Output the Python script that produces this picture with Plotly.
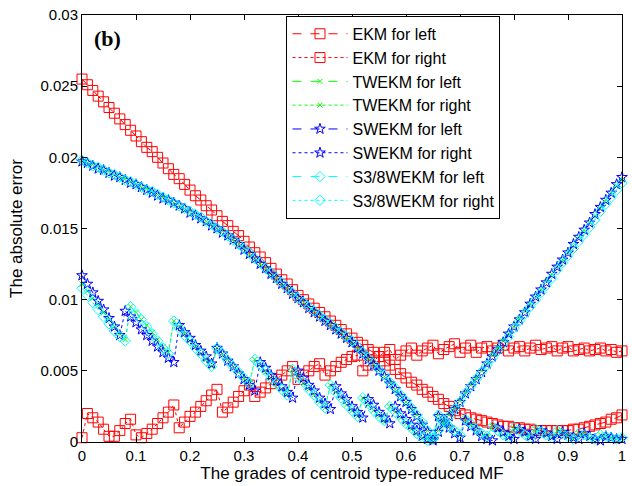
import plotly.graph_objects as go

grades = [round(i * 0.01, 2) for i in range(101)]

ekm_left = [0.0255,0.0251,0.0247,0.0243,0.0239,0.0235,0.0231,0.0227,0.0223,0.0219,
            0.0215,0.0211,0.0207,0.0204,0.0200,0.0196,0.0192,0.0188,0.0185,0.0181,
            0.0177,0.0173,0.0170,0.0166,0.0163,0.0159,0.0155,0.0152,0.0148,0.0145,
            0.0141,0.0137,0.0133,0.0130,0.0126,0.0122,0.0118,0.0114,0.0111,0.0107,
            0.0103,0.0100,0.0097,0.0094,0.0091,0.0088,0.0085,0.0082,0.0079,0.0076,
            0.0073,0.0070,0.0068,0.0065,0.0063,0.0060,0.0057,0.0054,0.0051,0.0048,
            0.0045,0.0042,0.0040,0.0037,0.0035,0.0032,0.0030,0.0027,0.0025,0.0022,
            0.0020,0.0019,0.0017,0.0016,0.0015,0.0014,0.0013,0.0012,0.0011,0.0011,
            0.0010,0.0010,0.0009,0.0009,0.0008,0.0008,0.0008,0.0008,0.0008,0.0008,
            0.0008,0.0009,0.0009,0.0010,0.0011,0.0012,0.0013,0.0014,0.0016,0.0017,
            0.0019]

ekm_right = [0.0003,0.0020,0.0017,0.0014,0.0009,0.0004,0.0004,0.0008,0.0013,0.0016,
             0.0005,0.0003,0.0006,0.0009,0.0013,0.0017,0.0021,0.0026,0.0010,0.0014,
             0.0018,0.0021,0.0025,0.0029,0.0033,0.0037,0.0021,0.0024,0.0028,0.0032,
             0.0036,0.0040,0.0032,0.0035,0.0038,0.0041,0.0044,0.0047,0.0050,0.0053,
             0.0044,0.0047,0.0050,0.0053,0.0055,0.0047,0.0050,0.0053,0.0056,0.0058,
             0.0060,0.0061,0.0050,0.0054,0.0057,0.0060,0.0063,0.0065,0.0058,0.0061,
             0.0064,0.0066,0.0061,0.0064,0.0066,0.0068,0.0062,0.0065,0.0067,0.0069,
             0.0063,0.0066,0.0068,0.0063,0.0066,0.0067,0.0064,0.0066,0.0068,0.0064,
             0.0066,0.0067,0.0064,0.0066,0.0068,0.0065,0.0066,0.0067,0.0064,0.0066,
             0.0067,0.0064,0.0065,0.0066,0.0064,0.0065,0.0066,0.0064,0.0065,0.0063,
             0.0064]

twekm_left = [0.0198,0.0196,0.0195,0.0193,0.0191,0.0190,0.0188,0.0186,0.0185,0.0183,
              0.0181,0.0179,0.0178,0.0176,0.0174,0.0172,0.0170,0.0168,0.0166,0.0164,
              0.0162,0.0160,0.0157,0.0155,0.0153,0.0150,0.0148,0.0145,0.0142,0.0139,
              0.0136,0.0132,0.0129,0.0125,0.0122,0.0118,0.0115,0.0111,0.0108,0.0104,
              0.0101,0.0098,0.0095,0.0092,0.0089,0.0086,0.0083,0.0080,0.0077,0.0073,
              0.0070,0.0066,0.0063,0.0059,0.0055,0.0051,0.0046,0.0042,0.0037,0.0033,
              0.0028,0.0024,0.0019,0.0013,0.0008,0.0003,0.0008,0.0014,0.0019,0.0024,
              0.0029,0.0035,0.0040,0.0045,0.0050,0.0055,0.0061,0.0066,0.0071,0.0076,
              0.0081,0.0087,0.0092,0.0097,0.0102,0.0107,0.0113,0.0118,0.0123,0.0128,
              0.0133,0.0138,0.0144,0.0149,0.0154,0.0159,0.0164,0.0170,0.0175,0.0180,
              0.0184]

twekm_right = [0.0111,0.0106,0.0101,0.0096,0.0091,0.0086,0.0081,0.0076,0.0072,0.0095,
               0.0091,0.0086,0.0082,0.0077,0.0072,0.0067,0.0063,0.0085,0.0081,0.0076,
               0.0071,0.0067,0.0062,0.0058,0.0053,0.0066,0.0062,0.0058,0.0053,0.0049,
               0.0045,0.0041,0.0058,0.0054,0.0049,0.0045,0.0041,0.0037,0.0033,0.0051,
               0.0046,0.0041,0.0037,0.0033,0.0028,0.0024,0.0040,0.0035,0.0031,0.0026,
               0.0022,0.0018,0.0031,0.0026,0.0022,0.0018,0.0014,0.0025,0.0021,0.0017,
               0.0013,0.0009,0.0006,0.0003,0.0001,0.0002,0.0019,0.0015,0.0011,0.0008,
               0.0005,0.0016,0.0012,0.0009,0.0006,0.0003,0.0011,0.0008,0.0005,0.0003,
               0.0010,0.0008,0.0005,0.0003,0.0009,0.0007,0.0005,0.0003,0.0008,0.0006,
               0.0004,0.0002,0.0006,0.0005,0.0003,0.0002,0.0005,0.0004,0.0003,0.0002,
               0.0003]

swekm_left = [0.0197,0.0196,0.0194,0.0192,0.0191,0.0189,0.0187,0.0186,0.0184,0.0182,
              0.0181,0.0179,0.0177,0.0175,0.0173,0.0171,0.0170,0.0168,0.0166,0.0164,
              0.0161,0.0159,0.0157,0.0155,0.0152,0.0150,0.0147,0.0145,0.0142,0.0139,
              0.0135,0.0132,0.0129,0.0125,0.0122,0.0118,0.0115,0.0111,0.0108,0.0104,
              0.0101,0.0098,0.0094,0.0091,0.0088,0.0085,0.0082,0.0079,0.0076,0.0073,
              0.0070,0.0066,0.0062,0.0058,0.0054,0.0050,0.0046,0.0041,0.0037,0.0032,
              0.0028,0.0023,0.0018,0.0012,0.0007,0.0002,0.0007,0.0013,0.0018,0.0023,
              0.0028,0.0034,0.0039,0.0044,0.0049,0.0055,0.0060,0.0065,0.0070,0.0076,
              0.0081,0.0086,0.0091,0.0097,0.0102,0.0107,0.0112,0.0118,0.0123,0.0128,
              0.0133,0.0139,0.0144,0.0149,0.0154,0.0160,0.0165,0.0170,0.0175,0.0181,
              0.0186]

swekm_right = [0.0117,0.0111,0.0105,0.0099,0.0093,0.0087,0.0081,0.0075,0.0092,0.0088,
               0.0084,0.0079,0.0075,0.0071,0.0067,0.0063,0.0059,0.0056,0.0082,0.0077,
               0.0073,0.0068,0.0064,0.0060,0.0055,0.0066,0.0062,0.0057,0.0053,0.0048,
               0.0044,0.0040,0.0036,0.0056,0.0052,0.0047,0.0043,0.0039,0.0035,0.0031,
               0.0050,0.0045,0.0040,0.0036,0.0031,0.0027,0.0023,0.0039,0.0034,0.0030,
               0.0025,0.0021,0.0017,0.0030,0.0026,0.0021,0.0017,0.0013,0.0025,0.0020,
               0.0016,0.0012,0.0008,0.0004,0.0002,0.0001,0.0018,0.0014,0.0010,0.0006,
               0.0003,0.0015,0.0011,0.0008,0.0004,0.0002,0.0001,0.0010,0.0007,0.0004,
               0.0002,0.0009,0.0007,0.0004,0.0002,0.0008,0.0006,0.0004,0.0002,0.0007,
               0.0005,0.0003,0.0002,0.0006,0.0004,0.0002,0.0001,0.0004,0.0003,0.0002,
               0.0002]

s38_left = [0.0198,0.0196,0.0194,0.0193,0.0191,0.0189,0.0188,0.0186,0.0184,0.0183,
            0.0181,0.0179,0.0177,0.0176,0.0174,0.0172,0.0170,0.0168,0.0166,0.0164,
            0.0162,0.0160,0.0158,0.0155,0.0153,0.0150,0.0148,0.0145,0.0142,0.0139,
            0.0136,0.0133,0.0129,0.0126,0.0122,0.0119,0.0115,0.0112,0.0108,0.0105,
            0.0101,0.0098,0.0095,0.0092,0.0089,0.0086,0.0083,0.0080,0.0077,0.0074,
            0.0071,0.0067,0.0063,0.0059,0.0055,0.0051,0.0047,0.0042,0.0038,0.0033,
            0.0029,0.0024,0.0019,0.0014,0.0008,0.0003,0.0008,0.0013,0.0018,0.0023,
            0.0028,0.0034,0.0039,0.0044,0.0049,0.0054,0.0059,0.0064,0.0069,0.0074,
            0.0080,0.0085,0.0090,0.0095,0.0100,0.0105,0.0110,0.0115,0.0121,0.0126,
            0.0131,0.0136,0.0141,0.0146,0.0151,0.0156,0.0162,0.0167,0.0172,0.0177,
            0.0182]

s38_right = [0.0108,0.0103,0.0098,0.0093,0.0088,0.0083,0.0078,0.0074,0.0071,0.0095,
             0.0090,0.0086,0.0081,0.0076,0.0071,0.0066,0.0062,0.0085,0.0080,0.0075,
             0.0071,0.0066,0.0062,0.0057,0.0053,0.0066,0.0062,0.0057,0.0053,0.0049,
             0.0045,0.0041,0.0058,0.0054,0.0050,0.0045,0.0041,0.0037,0.0033,0.0051,
             0.0046,0.0042,0.0037,0.0033,0.0028,0.0024,0.0040,0.0035,0.0031,0.0026,
             0.0022,0.0018,0.0031,0.0027,0.0022,0.0018,0.0015,0.0025,0.0021,0.0017,
             0.0013,0.0010,0.0006,0.0003,0.0001,0.0002,0.0019,0.0015,0.0011,0.0008,
             0.0005,0.0016,0.0013,0.0009,0.0006,0.0004,0.0011,0.0008,0.0005,0.0003,
             0.0010,0.0008,0.0005,0.0003,0.0009,0.0007,0.0005,0.0003,0.0008,0.0006,
             0.0004,0.0002,0.0006,0.0005,0.0003,0.0002,0.0005,0.0004,0.0003,0.0002,
             0.0003]

x_tick_vals = [0, 0.1, 0.2, 0.3, 0.4, 0.5, 0.6, 0.7, 0.8, 0.9, 1]
x_tick_text = ["0", "0.1", "0.2", "0.3", "0.4", "0.5", "0.6", "0.7", "0.8", "0.9", "1"]
y_tick_vals = [0, 0.005, 0.01, 0.015, 0.02, 0.025, 0.03]
y_tick_text = ["0", "0.005", "0.01", "0.015", "0.02", "0.025", "0.03"]

series = [
    ("EKM for left", ekm_left, "#FF0000", "dash", "square-open", 10),
    ("EKM for right", ekm_right, "#FF0000", "dot", "square-open", 10),
    ("TWEKM for left", twekm_left, "#00FF00", "dash", "x-thin-open", 5),
    ("TWEKM for right", twekm_right, "#00FF00", "dot", "x-thin-open", 5),
    ("SWEKM for left", swekm_left, "#0000FF", "dash", "star-open", 8),
    ("SWEKM for right", swekm_right, "#0000FF", "dot", "star-open", 8),
    ("S3/8WEKM for left", s38_left, "#00FFFF", "dash", "diamond-open", 8),
    ("S3/8WEKM for right", s38_right, "#00FFFF", "dot", "diamond-open", 8),
]

FONT = "Liberation Sans, Arial, sans-serif"

fig = go.Figure()
for name, vals, color, dash, sym, size in series:
    fig.add_trace(go.Scatter(
        x=grades, y=vals, name=name, mode="lines+markers",
        line=dict(color=color, width=1, dash=dash),
        marker=dict(symbol=sym, size=size, color=color, line=dict(color=color, width=1)),
        cliponaxis=False,
    ))

fig.update_layout(
    width=632, height=486,
    margin=dict(l=82, r=6, t=15, b=43),
    paper_bgcolor="white", plot_bgcolor="white",
    font=dict(family=FONT, size=15, color="black"),
    showlegend=True,
    legend=dict(
        x=(288 - 82) / 544, y=0.998, xanchor="left", yanchor="top",
        bgcolor="white", bordercolor="black", borderwidth=1,
        font=dict(family=FONT, size=16, color="black"),
        itemwidth=55, tracegroupgap=0,
    ),
    annotations=[dict(
        text="<b>(b)</b>", xref="paper", yref="paper",
        x=(92 - 82) / 544, y=(443 - 39) / 428, xanchor="left", yanchor="middle",
        showarrow=False, font=dict(family="Liberation Serif, Times New Roman, serif", size=22, color="black"),
    )],
)

fig.update_xaxes(
    range=[0, 1], tickvals=x_tick_vals, ticktext=x_tick_text,
    ticks="inside", ticklen=5, tickcolor="black", tickwidth=1,
    showline=True, linecolor="black", linewidth=1, mirror="allticks",
    showgrid=False, zeroline=False,
    title=dict(text="The grades of centroid type-reduced MF", font=dict(size=17), standoff=4),
    tickfont=dict(size=15),
)
fig.update_yaxes(
    range=[0, 0.03], tickvals=y_tick_vals, ticktext=y_tick_text,
    ticks="inside", ticklen=5, tickcolor="black", tickwidth=1,
    showline=True, linecolor="black", linewidth=1, mirror="allticks",
    showgrid=False, zeroline=False,
    title=dict(text="The absolute error", font=dict(size=17), standoff=13),
    tickfont=dict(size=15),
)

fig.write_html("out.html")
